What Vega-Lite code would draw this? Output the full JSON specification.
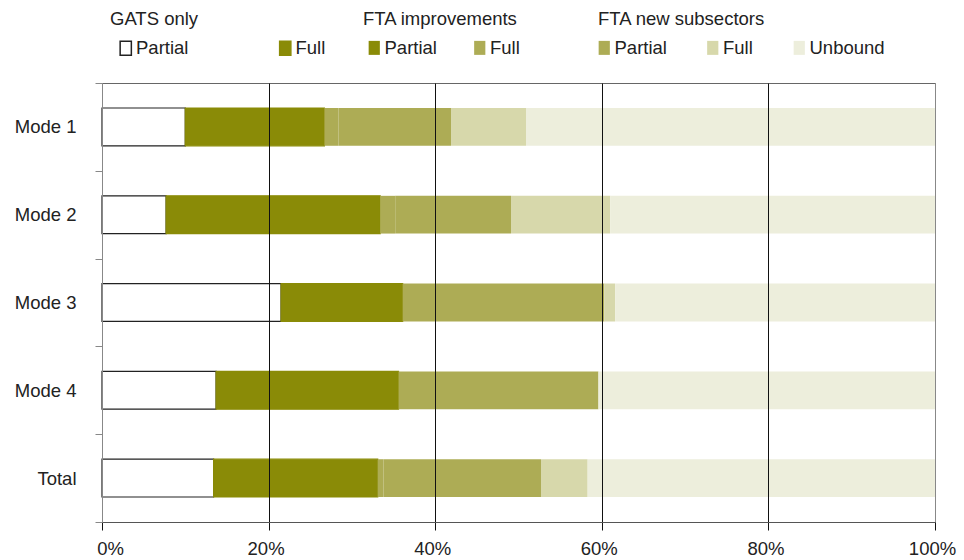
{
  "$schema": "https://vega.github.io/schema/vega-lite/v6.json",
  "width": 833,
  "height": 439,
  "autosize": {"type": "none"},
  "padding": {"left": 102, "top": 83, "right": 29, "bottom": 38},
  "background": "white",
  "config": {
    "font": "Liberation Sans",
    "view": {"stroke": "#666", "strokeWidth": 1},
    "legend": {
      "padding": 0,
      "titleFontSize": 18.5,
      "titleFontWeight": "normal",
      "titleColor": "#222",
      "titleFont": "Liberation Sans",
      "titlePadding": 10,
      "labelFontSize": 18.5,
      "labelColor": "#222",
      "labelFont": "Liberation Sans",
      "labelLimit": 300,
      "labelOffset": 1,
      "symbolType": "M-0.8,-1H0.8V1H-0.8Z",
      "symbolSize": 196,
      "direction": "horizontal",
      "orient": "none"
    }
  },
  "data": {
    "values": [
      {"mode": "Mode 1", "group": "GATS only", "type": "Partial", "seq": 1, "value": 10.0},
      {"mode": "Mode 1", "group": "GATS only", "type": "Full", "seq": 2, "value": 16.7},
      {"mode": "Mode 1", "group": "FTA improvements", "type": "Partial", "seq": 3, "value": 0},
      {"mode": "Mode 1", "group": "FTA improvements", "type": "Full", "seq": 4, "value": 1.7},
      {"mode": "Mode 1", "group": "FTA new subsectors", "type": "Partial", "seq": 5, "value": 13.5},
      {"mode": "Mode 1", "group": "FTA new subsectors", "type": "Full", "seq": 6, "value": 9.0},
      {"mode": "Mode 1", "group": "FTA new subsectors", "type": "Unbound", "seq": 7, "value": 49.1},
      {"mode": "Mode 2", "group": "GATS only", "type": "Partial", "seq": 1, "value": 7.7},
      {"mode": "Mode 2", "group": "GATS only", "type": "Full", "seq": 2, "value": 25.7},
      {"mode": "Mode 2", "group": "FTA improvements", "type": "Partial", "seq": 3, "value": 0},
      {"mode": "Mode 2", "group": "FTA improvements", "type": "Full", "seq": 4, "value": 1.8},
      {"mode": "Mode 2", "group": "FTA new subsectors", "type": "Partial", "seq": 5, "value": 13.9},
      {"mode": "Mode 2", "group": "FTA new subsectors", "type": "Full", "seq": 6, "value": 11.9},
      {"mode": "Mode 2", "group": "FTA new subsectors", "type": "Unbound", "seq": 7, "value": 39.0},
      {"mode": "Mode 3", "group": "GATS only", "type": "Partial", "seq": 1, "value": 21.5},
      {"mode": "Mode 3", "group": "GATS only", "type": "Full", "seq": 2, "value": 14.6},
      {"mode": "Mode 3", "group": "FTA improvements", "type": "Partial", "seq": 3, "value": 0},
      {"mode": "Mode 3", "group": "FTA improvements", "type": "Full", "seq": 4, "value": 0},
      {"mode": "Mode 3", "group": "FTA new subsectors", "type": "Partial", "seq": 5, "value": 24.2},
      {"mode": "Mode 3", "group": "FTA new subsectors", "type": "Full", "seq": 6, "value": 1.3},
      {"mode": "Mode 3", "group": "FTA new subsectors", "type": "Unbound", "seq": 7, "value": 38.4},
      {"mode": "Mode 4", "group": "GATS only", "type": "Partial", "seq": 1, "value": 13.7},
      {"mode": "Mode 4", "group": "GATS only", "type": "Full", "seq": 2, "value": 21.9},
      {"mode": "Mode 4", "group": "FTA improvements", "type": "Partial", "seq": 3, "value": 0},
      {"mode": "Mode 4", "group": "FTA improvements", "type": "Full", "seq": 4, "value": 0},
      {"mode": "Mode 4", "group": "FTA new subsectors", "type": "Partial", "seq": 5, "value": 24.0},
      {"mode": "Mode 4", "group": "FTA new subsectors", "type": "Full", "seq": 6, "value": 0},
      {"mode": "Mode 4", "group": "FTA new subsectors", "type": "Unbound", "seq": 7, "value": 40.4},
      {"mode": "Total", "group": "GATS only", "type": "Partial", "seq": 1, "value": 13.4},
      {"mode": "Total", "group": "GATS only", "type": "Full", "seq": 2, "value": 19.7},
      {"mode": "Total", "group": "FTA improvements", "type": "Partial", "seq": 3, "value": 0},
      {"mode": "Total", "group": "FTA improvements", "type": "Full", "seq": 4, "value": 0.7},
      {"mode": "Total", "group": "FTA new subsectors", "type": "Partial", "seq": 5, "value": 18.9},
      {"mode": "Total", "group": "FTA new subsectors", "type": "Full", "seq": 6, "value": 5.6},
      {"mode": "Total", "group": "FTA new subsectors", "type": "Unbound", "seq": 7, "value": 41.7}
    ]
  },
  "transform": [
    {"stack": "value", "groupby": ["mode"], "sort": [{"field": "seq", "order": "ascending"}], "as": ["x0", "x1"]}
  ],
  "encoding": {
    "y": {
      "field": "mode",
      "type": "nominal",
      "sort": ["Mode 1", "Mode 2", "Mode 3", "Mode 4", "Total"],
      "scale": {"paddingInner": 0, "paddingOuter": 0},
      "axis": {
        "title": null,
        "tickBand": "extent",
        "grid": false,
        "domainColor": "#888",
        "tickColor": "#888",
        "tickSize": 7,
        "labelFontSize": 18.5,
        "labelColor": "#222",
        "labelFont": "Liberation Sans",
        "labelPadding": 19,
        "zindex": 1
      }
    },
    "x": {
      "field": "x0",
      "type": "quantitative",
      "scale": {"domain": [0, 100], "nice": false},
      "axis": {
        "title": null,
        "values": [0, 20, 40, 60, 80, 100],
        "labelExpr": "datum.value + '%'",
        "grid": true,
        "gridColor": {"condition": {"test": "datum.value == 0 || datum.value == 100", "value": "#888"}, "value": "#111"},
        "gridOpacity": 1,
        "domainColor": "#555",
        "tickColor": "#111",
        "tickSize": 8,
        "labelFontSize": 18.5,
        "labelColor": "#222",
        "labelFont": "Liberation Sans",
        "labelPadding": 9,
        "labelFlush": false,
        "labelOffset": {"condition": {"test": "datum.value == 0", "value": 8}, "value": -3},
        "zindex": 1
      }
    },
    "x2": {"field": "x1"}
  },
  "layer": [
    {
      "transform": [{"filter": "datum.group == 'GATS only'"}],
      "mark": {"type": "bar", "strokeWidth": 1.2, "height": {"band": 0.43}},
      "encoding": {
        "color": {
          "field": "type",
          "type": "nominal",
          "scale": {"domain": ["Partial", "Full"], "range": ["#ffffff", "#8a8b07"]},
          "legend": {"title": "GATS only", "legendX": 8, "legendY": -73, "columnPadding": 80.5, "symbolOffset": 6.5}
        },
        "stroke": {
          "field": "type",
          "type": "nominal",
          "scale": {"domain": ["Partial", "Full"], "range": ["#222222", "#8a8b07"]},
          "legend": {"title": "GATS only", "legendX": 8, "legendY": -73, "columnPadding": 80.5, "symbolOffset": 6.5}
        }
      }
    },
    {
      "transform": [{"filter": "datum.group == 'FTA improvements'"}],
      "mark": {"type": "bar", "height": {"band": 0.43}},
      "encoding": {
        "color": {
          "field": "type",
          "type": "nominal",
          "scale": {"domain": ["Partial", "Full"], "range": ["#8a8b07", "#adac55"]},
          "legend": {"title": "FTA improvements", "legendX": 261, "legendY": -73, "columnPadding": 31.5, "symbolOffset": 2}
        }
      }
    },
    {
      "transform": [{"filter": "datum.group == 'FTA new subsectors'"}],
      "mark": {"type": "bar", "height": {"band": 0.43}},
      "encoding": {
        "color": {
          "field": "type",
          "type": "nominal",
          "scale": {"domain": ["Partial", "Full", "Unbound"], "range": ["#adac55", "#d7d8ab", "#edeedc"]},
          "legend": {"title": "FTA new subsectors", "legendX": 496, "legendY": -73, "columnPadding": 39.5, "symbolOffset": -3}
        }
      }
    }
  ],
  "resolve": {"scale": {"color": "independent", "stroke": "independent"}, "legend": {"color": "independent", "stroke": "independent"}}
}
